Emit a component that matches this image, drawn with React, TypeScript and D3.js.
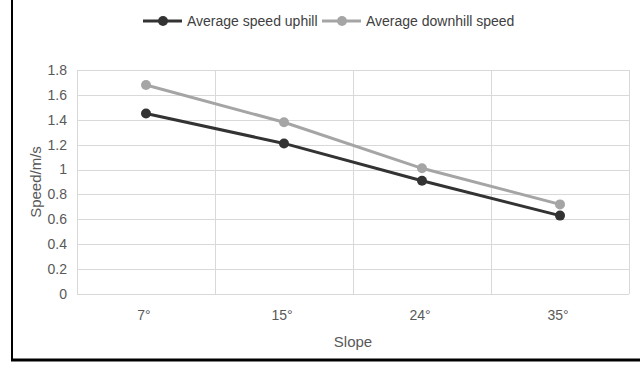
import React from "react";
import * as d3 from "d3";

const categories = ["7°", "15°", "24°", "35°"];
const uphill = [1.45, 1.21, 0.91, 0.63];
const downhill = [1.68, 1.38, 1.01, 0.72];
const yTicks = [0, 0.2, 0.4, 0.6, 0.8, 1, 1.2, 1.4, 1.6, 1.8];
const seriesNames = ["Average speed uphill", "Average downhill speed"];
const seriesColors = ["#333333", "#a5a5a5"];

const W = 640, H = 365;
const plot = { left: 77, right: 629, top: 70, bottom: 294 };
const FONT = "'Liberation Sans', Arial, sans-serif";

export default function App() {
  const x = d3.scaleBand<string>().domain(categories).range([plot.left, plot.right]).padding(0);
  const y = d3.scaleLinear().domain([0, 1.8]).range([plot.bottom, plot.top]);
  const line = d3.line<number>().x((_, i) => x(categories[i])! + x.bandwidth() / 2).y((d) => y(d));
  const series = [uphill, downhill];
  const legendX = [143, 322];
  return (
    <svg width={W} height={H} style={{ position: "absolute", left: 0, top: 0, background: "#fff" }} fontFamily={FONT}>
      <rect x={0} y={0} width={W} height={H} fill="#fff" />
      {/* outer frame */}
      <line x1={12} y1={0} x2={12} y2={361} stroke="#000" strokeWidth={2} />
      <line x1={11} y1={360} x2={640} y2={360} stroke="#000" strokeWidth={3} />
      {/* horizontal grid */}
      {yTicks.map((t) => (
        <line key={t} x1={plot.left} x2={plot.right} y1={Math.round(y(t)) + 0.5} y2={Math.round(y(t)) + 0.5} stroke="#d9d9d9" strokeWidth={1} />
      ))}
      {/* vertical category lines */}
      {[...categories.map((c) => x(c)!), plot.right].map((v, i) => (
        <line key={i} x1={Math.round(v) + 0.5} x2={Math.round(v) + 0.5} y1={plot.top} y2={plot.bottom} stroke="#d9d9d9" strokeWidth={1} />
      ))}
      {/* y ticks */}
      {yTicks.map((t) => (
        <text key={t} x={67} y={y(t)} dy="0.35em" textAnchor="end" fontSize={14} fill="#595959">
          {d3.format("~g")(t)}
        </text>
      ))}
      {/* x ticks */}
      {categories.map((c) => (
        <text key={c} x={x(c)! + x.bandwidth() / 2 - 2} y={320} textAnchor="middle" fontSize={14} fill="#595959">
          {c}
        </text>
      ))}
      <text x={353} y={347} textAnchor="middle" fontSize={15} fill="#595959">Slope</text>
      <text transform={`translate(41,182) rotate(-90)`} textAnchor="middle" fontSize={15} fill="#595959">Speed/m/s</text>
      {/* series */}
      {series.map((s, si) => (
        <g key={si}>
          <path d={line(s)!} fill="none" stroke={seriesColors[si]} strokeWidth={3} />
          {s.map((v, i) => (
            <circle key={i} cx={x(categories[i])! + x.bandwidth() / 2} cy={y(v)} r={5} fill={seriesColors[si]} />
          ))}
        </g>
      ))}
      {/* legend */}
      {seriesNames.map((n, i) => (
        <g key={n}>
          <line x1={legendX[i]} x2={legendX[i] + 39} y1={21} y2={21} stroke={seriesColors[i]} strokeWidth={3} />
          <circle cx={legendX[i] + 20} cy={21} r={5} fill={seriesColors[i]} />
          <text x={legendX[i] + 44} y={26} fontSize={14} fill="#404040">{n}</text>
        </g>
      ))}
    </svg>
  );
}
